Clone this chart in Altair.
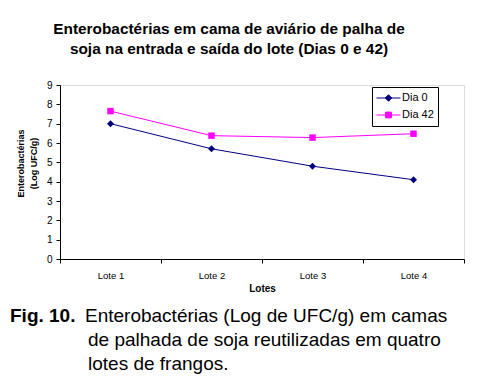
import altair as alt
import pandas as pd

lotes = ["Lote 1", "Lote 2", "Lote 3", "Lote 4"]
series = ["Dia 0", "Dia 42"]
dia0 = [7.0, 5.7, 4.8, 4.1]
dia42 = [7.65, 6.38, 6.28, 6.48]
colors = ["#000080", "#FF00FF"]
y_ticks = [0, 1, 2, 3, 4, 5, 6, 7, 8, 9]
title_lines = ["Enterobactérias em cama de aviário de palha de",
               "soja na entrada e saída do lote (Dias 0 e 42)"]
caption_bold = "Fig. 10."
caption_lines = ["Enterobactérias (Log de UFC/g) em camas",
                 "de palhada de soja reutilizadas em quatro",
                 "lotes de frangos."]

rows = []
for s, vals in zip(series, [dia0, dia42]):
    for l, v in zip(lotes, vals):
        rows.append({"lote": l, "serie": s, "valor": v})
df = pd.DataFrame(rows)

FONT = "Liberation Sans"
W, H = 404, 174

x = alt.X("lote:N", sort=lotes,
          scale=alt.Scale(type="band", domain=lotes, paddingInner=0, paddingOuter=0),
          bandPosition=0.5,
          axis=alt.Axis(tickBand="extent", labelAngle=0, title="Lotes",
                        domainColor="black", tickColor="black", tickSize=4,
                        labelFont=FONT, labelFontSize=9.5, labelColor="black",
                        labelPadding=7, titleFont=FONT, titleFontSize=10,
                        titleFontWeight="bold", titlePadding=4, titleColor="black",
                        grid=False))
y = alt.Y("valor:Q", scale=alt.Scale(domain=[0, 9], nice=False, zero=True),
          axis=alt.Axis(values=y_ticks, grid=False, domainColor="black",
                        tickColor="black", tickSize=4, labelPadding=4,
                        labelFont=FONT, labelFontSize=10, labelColor="black",
                        title=["Enterobactérias", "(Log UFC/g)"],
                        titleFont=FONT, titleFontSize=9, titleFontWeight="bold",
                        titleColor="black", titleAngle=270, titleLineHeight=13,
                        titleX=-40, titleY=78, titleAlign="center",
                        titleBaseline="middle"))

color = alt.Color("serie:N", scale=alt.Scale(domain=series, range=colors), legend=None)

base = alt.Chart(df)
lines = base.mark_line(strokeWidth=1).encode(x=x, y=y, color=color)
points = base.mark_point(filled=True, opacity=1).encode(
    x=x, y=y, color=color,
    shape=alt.Shape("serie:N", scale=alt.Scale(domain=series, range=["diamond", "square"]), legend=None),
    size=alt.Size("serie:N", scale=alt.Scale(domain=series, range=[49, 42]), legend=None),
)

sym_d = "M-1,0L1,0M0,-0.27L0.27,0L0,0.27L-0.27,0Z"
sym_s = "M-1,0L1,0M-0.24,-0.24L0.24,-0.24L0.24,0.24L-0.24,0.24Z"
leg = alt.Legend(title=None, orient="none", legendX=312, legendY=2,
                 strokeColor="black", fillColor="white", padding=4,
                 labelFont=FONT, labelFontSize=11, labelColor="black",
                 symbolSize=576, symbolStrokeWidth=1, rowPadding=3, labelOffset=1,
                 clipHeight=14)
legend_layer = base.mark_point(filled=True, opacity=1, size=576, strokeWidth=1).transform_filter(
    "false").encode(
    fill=alt.Fill("serie:N", scale=alt.Scale(domain=series, range=colors), legend=leg),
    stroke=alt.Stroke("serie:N", scale=alt.Scale(domain=series, range=colors), legend=leg),
    shape=alt.Shape("serie:N", scale=alt.Scale(domain=series, range=[sym_d, sym_s]), legend=leg),
)

def text_layer(txt, xv, yv, bold=False, size=19):
    return alt.Chart(alt.Data(values=[{"t": txt}])).mark_text(
        align="left", baseline="alphabetic", font=FONT, fontSize=size,
        fontWeight="bold" if bold else "normal", color="black"
    ).encode(text="t:N", x=alt.value(xv), y=alt.value(yv))

cap = [text_layer(caption_bold, -50, 237, bold=True),
       text_layer(caption_lines[0], 25, 237),
       text_layer(caption_lines[1], 28, 261),
       text_layer(caption_lines[2], 28, 285)]

chart = alt.layer(lines, points, legend_layer, *cap).resolve_scale(
    shape="independent", fill="independent", stroke="independent", size="independent"
).properties(
    width=W, height=H,
    title=alt.TitleParams(title_lines, anchor="middle", frame="group", dx=-33,
                          font=FONT, fontSize=15.4, fontWeight="bold", color="black",
                          lineHeight=20, offset=23),
    autosize=alt.AutoSizeParams(type="none"),
    padding={"left": 52, "top": 77, "right": 5, "bottom": 115},
).configure_view(stroke="#666666", strokeWidth=1).configure(background="white")

chart.save("out.html", embed_options={"renderer": "svg", "actions": False})
